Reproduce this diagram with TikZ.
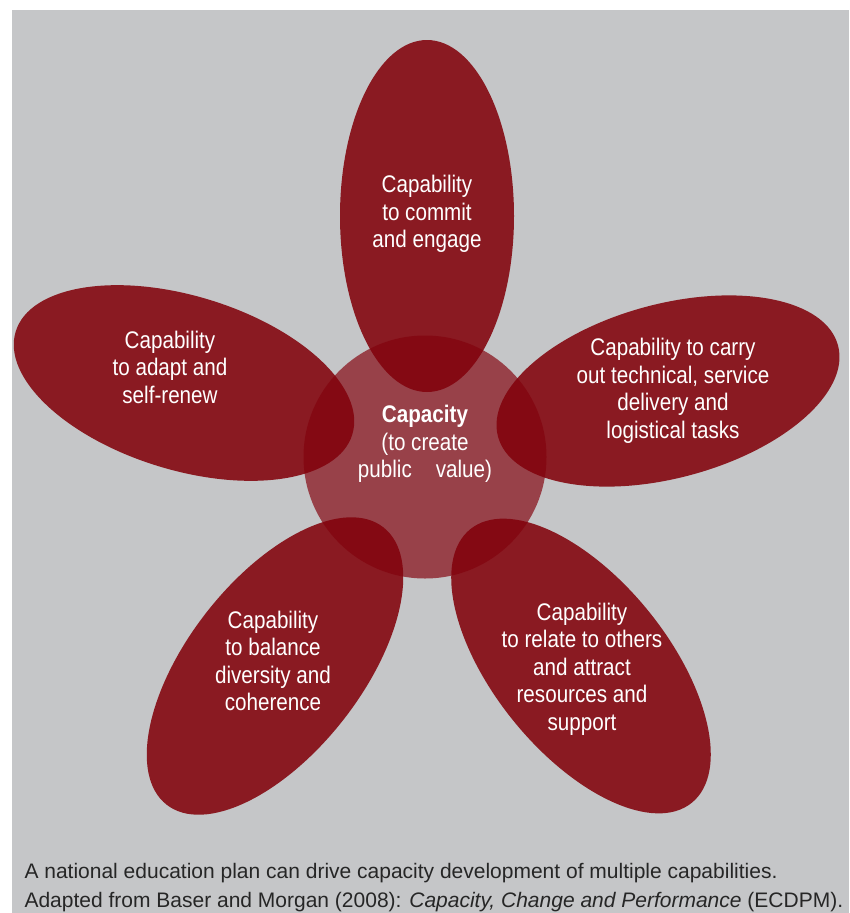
\documentclass[tikz,border=0pt]{standalone}
\usepackage{fontspec}
\setmainfont{Liberation Sans}[FakeStretch=0.86]
\newfontfamily\notefont{Liberation Sans}
\usetikzlibrary{shapes.geometric}
\definecolor{petalred}{RGB}{138,26,34}
\definecolor{hubred}{RGB}{130,1,12}
\definecolor{panelgray}{RGB}{197,198,200}

\begin{document}
\begin{tikzpicture}[x=1pt,y=-1pt,
    petal/.style={ellipse,fill=petalred,minimum width=352pt,minimum height=174pt,inner sep=0pt},
    petaltext/.style={text=white,align=center,font=\fontsize{24}{27.5}\selectfont},
    notetext/.style={anchor=base west,text=black!85,font=\notefont\fontsize{21}{29}\selectfont}]
  \useasboundingbox[fill=white] (0,0) rectangle (849,913);
  \fill[panelgray] (12,10) rectangle (849,913);

  % the five capabilities
  \node[petal,rotate=90]  (commit)  at (427,216) {};
  \node[petal,rotate=15]  (carry)   at (668,391) {};
  \node[petal,rotate=-17] (adapt)   at (184,383) {};
  \node[petal,rotate=52]  (balance) at (275,666) {};
  \node[petal,rotate=-51] (relate)  at (581,666) {};

  % capacity in the middle
  \node[circle,fill=hubred,fill opacity=0.67,minimum size=243pt,inner sep=0pt] (capacity) at (425,457) {};

  \node[petaltext] (committext)  at (427,214) {Capability\\to commit\\and engage};
  \node[petaltext] (carrytext)   at (673,391) {Capability to carry\\out technical, service\\delivery and\\logistical tasks};
  \node[petaltext] (adapttext)   at (170,367) {Capability\\to adapt and\\self-renew};
  \node[petaltext] (balancetext) at (273,661) {Capability\\to balance\\diversity and\\coherence};
  \node[petaltext] (relatetext)  at (582,669) {Capability\\to relate to others\\and attract\\resources and\\support};
  \node[petaltext] (capacitytext) at (425,444) {\textbf{Capacity}\\(to create\\public\hspace{1em}value)};

  \node[notetext] (note1) at (21,878) {A national education plan can drive capacity development of multiple capabilities.};
  \node[notetext] (note2) at (21,907) {Adapted from Baser and Morgan (2008): \textit{Capacity, Change and Performance} (ECDPM).};
\end{tikzpicture}
\end{document}
